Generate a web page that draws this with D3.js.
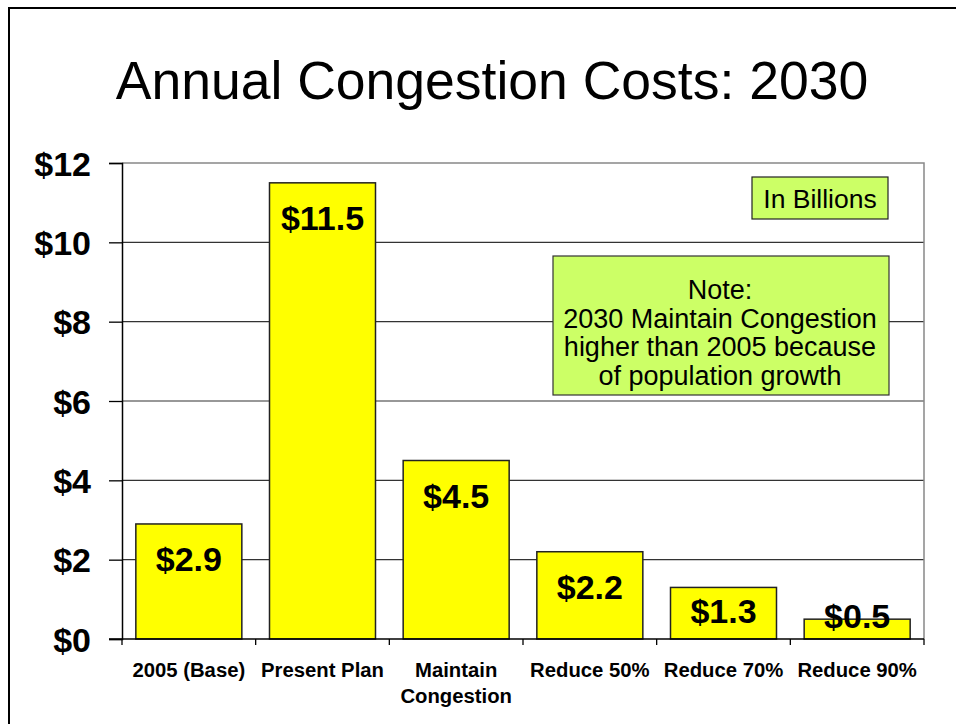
<!DOCTYPE html>
<html>
<head>
<meta charset="utf-8">
<script src="https://cdn.jsdelivr.net/npm/d3@7"></script>
<style>
  html, body { margin: 0; padding: 0; background: #fff; }
  svg { display: block; font-family: "Liberation Sans", Arial, sans-serif; }
</style>
</head>
<body>
<svg id="chart" width="956" height="724"></svg>
<script>
// Annual congestion costs in 2030, billions of dollars, per scenario
const categories = ["2005 (Base)", "Present Plan", "Maintain\nCongestion", "Reduce 50%", "Reduce 70%", "Reduce 90%"];
const costs = [2.9, 11.5, 4.5, 2.2, 1.3, 0.5];
const yTicks = [0, 2, 4, 6, 8, 10, 12];
const title = "Annual Congestion Costs: 2030";
const unitNote = "In Billions";
const noteLines = ["Note:", "2030 Maintain Congestion", "higher than 2005 because", "of population growth"];

const svg = d3.select("#chart");

// slide frame (top and left edges)
svg.append("path")
  .attr("d", "M9,724 V8 H956")
  .attr("fill", "none").attr("stroke", "#000").attr("stroke-width", 2);

svg.append("text")
  .attr("x", 492).attr("y", 99)
  .attr("text-anchor", "middle")
  .attr("font-size", 53.5)
  .text(title);

const plot = { left: 122, right: 924, top: 163, bottom: 639 };

const x = d3.scaleBand()
  .domain(categories)
  .range([plot.left, plot.right])
  .paddingInner(0.207)
  .paddingOuter(0.1035);

const y = d3.scaleLinear()
  .domain([0, 12])
  .range([plot.bottom, plot.top]);

// gridlines
svg.append("g")
  .selectAll("line")
  .data(yTicks.filter(t => t > 0 && t < 12))
  .join("line")
  .attr("x1", plot.left).attr("x2", plot.right)
  .attr("y1", d => y(d)).attr("y2", d => y(d))
  .attr("stroke", "#333").attr("stroke-width", 1.2);

// plot area frame (top and right)
svg.append("path")
  .attr("d", `M${plot.left},${y(12)} H${plot.right} V${plot.bottom}`)
  .attr("fill", "none").attr("stroke", "#888").attr("stroke-width", 1.5);

// bars
svg.append("g")
  .selectAll("rect")
  .data(costs)
  .join("rect")
  .attr("x", (d, i) => x(categories[i]))
  .attr("y", d => y(d))
  .attr("width", x.bandwidth())
  .attr("height", d => y(0) - y(d))
  .attr("fill", "#ffff00")
  .attr("stroke", "#222").attr("stroke-width", 1.5);

// y axis
const yAxis = svg.append("g")
  .attr("transform", `translate(${plot.left},0)`)
  .call(d3.axisLeft(y).tickValues(yTicks).tickSize(13).tickFormat(d => "$" + d));
yAxis.select(".domain").attr("stroke", "#000").attr("stroke-width", 1.5);
yAxis.selectAll(".tick line").attr("stroke", "#000").attr("stroke-width", 1.3);
yAxis.selectAll(".tick text")
  .attr("x", -31)
  .attr("dy", "0.36em")
  .attr("font-family", "Liberation Sans, Arial, sans-serif")
  .attr("font-size", 34).attr("font-weight", "bold").attr("fill", "#000");

// x axis: ticks at category boundaries
const boundaries = d3.range(categories.length + 1).map(i => plot.left + i * x.step());
const xAxisG = svg.append("g");
xAxisG.append("line")
  .attr("x1", plot.left - 13).attr("x2", plot.right)
  .attr("y1", plot.bottom).attr("y2", plot.bottom)
  .attr("stroke", "#000").attr("stroke-width", 1.5);
xAxisG.selectAll("line.tick")
  .data(boundaries)
  .join("line")
  .attr("class", "tick")
  .attr("x1", d => d).attr("x2", d => d)
  .attr("y1", plot.bottom).attr("y2", plot.bottom + 6)
  .attr("stroke", "#000").attr("stroke-width", 1.3);

// category labels
const catText = svg.append("g")
  .selectAll("text")
  .data(categories)
  .join("text")
  .attr("x", d => x(d) + x.bandwidth() / 2)
  .attr("y", 677)
  .attr("text-anchor", "middle")
  .attr("font-size", 20.3).attr("font-weight", "bold");
catText.each(function (d) {
  const t = d3.select(this);
  d.split("\n").forEach((line, i) => {
    t.append("tspan")
      .attr("x", x(d) + x.bandwidth() / 2)
      .attr("dy", i === 0 ? 0 : 26)
      .text(line);
  });
});

// value labels, inside the bar end; short bars keep the label near the base
svg.append("g")
  .selectAll("text")
  .data(costs)
  .join("text")
  .attr("x", (d, i) => x(categories[i]) + x.bandwidth() / 2)
  .attr("y", d => {
    const top = y(d), bottom = y(0);
    const mid = Math.min(top + 35, Math.max(top - 3, bottom - 28));
    return mid + 12;
  })
  .attr("text-anchor", "middle")
  .attr("font-size", 34).attr("font-weight", "bold")
  .text(d => "$" + d.toFixed(1));

// unit box
const unitBox = svg.append("g");
unitBox.append("rect")
  .attr("x", 752).attr("y", 177).attr("width", 136).attr("height", 42)
  .attr("fill", "#ccff66").attr("stroke", "#222").attr("stroke-width", 1.2);
unitBox.append("text")
  .attr("x", 820).attr("y", 208)
  .attr("text-anchor", "middle")
  .attr("font-size", 26.5)
  .text(unitNote);

// note box
const noteBox = svg.append("g");
noteBox.append("rect")
  .attr("x", 553).attr("y", 256).attr("width", 336).attr("height", 139)
  .attr("fill", "#ccff66").attr("stroke", "#333").attr("stroke-width", 1.2);
noteBox.selectAll("text")
  .data(noteLines)
  .join("text")
  .attr("x", 720)
  .attr("y", (d, i) => 299 + i * 28.7)
  .attr("text-anchor", "middle")
  .attr("font-size", 27)
  .text(d => d);
</script>
</body>
</html>
